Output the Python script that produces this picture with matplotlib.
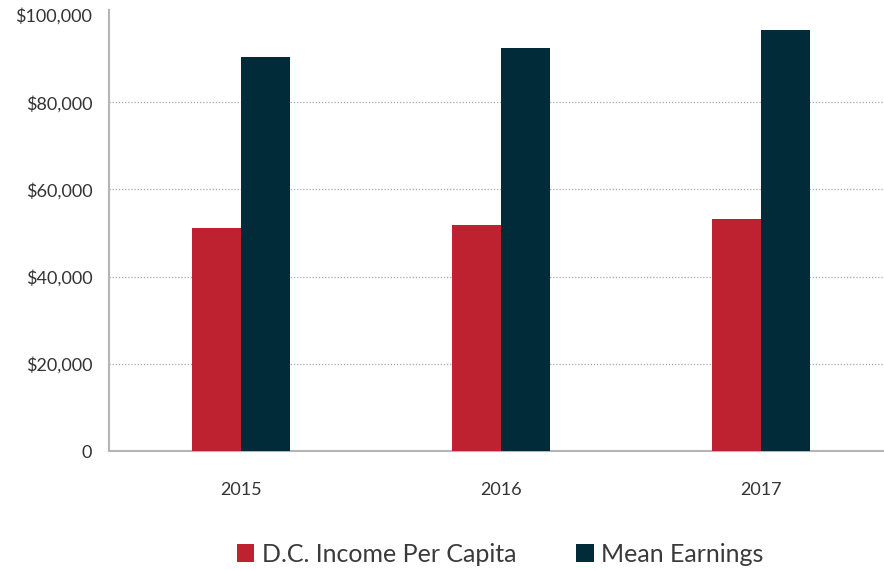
import matplotlib.pyplot as plt
import numpy as np

years = ['2015', '2016', '2017']
income_per_capita = [51150, 51800, 53200]
mean_earnings = [90400, 92450, 96550]
y_ticks = [0, 20000, 40000, 60000, 80000, 100000]
y_labels = ['0', '$20,000', '$40,000', '$60,000', '$80,000', '$100,000']

RED = '#BE2230'
NAVY = '#022B3A'
TXT = '#333333'

plt.rcParams['font.family'] = ['Lato', 'DejaVu Sans']

fig = plt.figure(figsize=(8.84, 5.70), dpi=100)
ax = fig.add_axes([109 / 884, 1 - 451 / 570, 1 - 109 / 884, (451 - 10) / 570])

x = np.arange(len(years))
w = 0.187
ax.bar(x - w / 2, income_per_capita, w, color=RED, label='D.C. Income Per Capita', zorder=3)
ax.bar(x + w / 2, mean_earnings, w, color=NAVY, label='Mean Earnings', zorder=3)

ax.set_xlim(-0.508, 2.473)
ax.set_ylim(0, 101150)
ax.set_yticks(y_ticks)
ax.set_yticklabels(y_labels)
ax.set_xticks(x)
ax.set_xticklabels(years)
ax.tick_params(axis='y', length=0, pad=12, labelsize=13, labelcolor=TXT)
ax.tick_params(axis='x', length=0, pad=22, labelsize=13, labelcolor=TXT)

ax.grid(axis='y', linestyle=(0, (1, 1.5)), color='#a8a8a8', linewidth=0.9, zorder=0)
# no gridline at the top tick
ax.yaxis.get_gridlines()[-1].set_visible(False)
for s in ['top', 'right']:
    ax.spines[s].set_visible(False)
for s in ['left', 'bottom']:
    ax.spines[s].set_color('#b5b5b5')
    ax.spines[s].set_linewidth(1.5)

fig.legend(loc='center', bbox_to_anchor=(0.566, 1 - 554 / 570), ncol=2, frameon=False,
           fontsize=18, labelcolor='#3a3a3a', handlelength=0.7, handleheight=0.7,
           handletextpad=0.3, columnspacing=2.4)

fig.savefig('out.png', dpi=100)
